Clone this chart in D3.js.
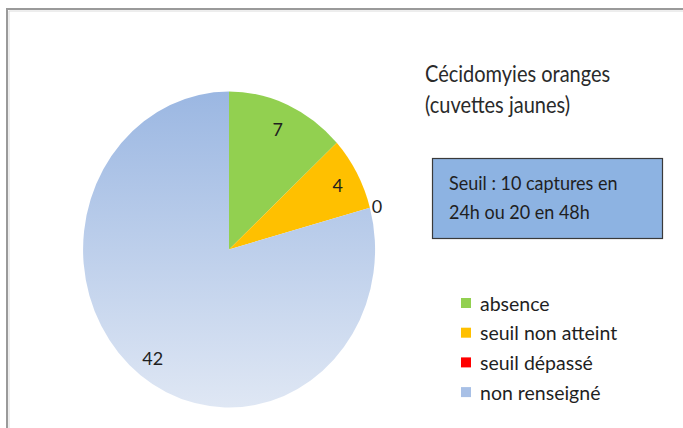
<!DOCTYPE html>
<html>
<head>
<meta charset="utf-8">
<script src="https://cdn.jsdelivr.net/npm/d3@7"></script>
<style>
  body { margin: 0; background: #fff; }
  svg { display: block; font-family: "Lato", "Liberation Sans", sans-serif; }
</style>
</head>
<body>
<svg id="chart" width="683" height="428"></svg>
<script>
// données
var categories = ['absence', 'seuil non atteint', 'seuil dépassé', 'non renseigné'];
var values = [7, 4, 0, 42];
var colors = ['#92D050', '#FFC000', '#FF0000', '#A8C0E6'];
var titleLines = ['Cécidomyies oranges', '(cuvettes jaunes)'];
var noteLines = ['Seuil : 10 captures en', '24h ou 20 en 48h'];

var svg = d3.select('#chart');

// cadre (seuls les bords haut et gauche sont visibles)
svg.append('path')
  .attr('d', 'M7,428 V9 H683')
  .attr('fill', 'none')
  .attr('stroke', '#9a9a9a')
  .attr('stroke-width', 2);
svg.append('path')
  .attr('d', 'M9,428 V11 H683')
  .attr('fill', 'none')
  .attr('stroke', '#dcdcdc')
  .attr('stroke-width', 1);

// dégradé de la part "non renseigné"
var defs = svg.append('defs');
var grad = defs.append('linearGradient')
  .attr('id', 'blueGrad')
  .attr('gradientUnits', 'userSpaceOnUse')
  .attr('x1', 0).attr('y1', -1).attr('x2', 0).attr('y2', 1);
grad.append('stop').attr('offset', '0%').attr('stop-color', '#9BB7E2');
grad.append('stop').attr('offset', '100%').attr('stop-color', '#DFE7F4');

// camembert (légèrement étiré en hauteur comme l'image)
var cx = 229, cy = 249.5, rx = 146, ry = 158;
var pie = d3.pie().sort(null).value(function(d){ return d; });
var arcs = pie(values);
var unitArc = d3.arc().innerRadius(0).outerRadius(1);

var g = svg.append('g')
  .attr('transform', 'translate(' + cx + ',' + cy + ') scale(' + rx + ',' + ry + ')');

g.selectAll('path')
  .data(arcs)
  .enter()
  .append('path')
  .attr('d', unitArc)
  .attr('fill', function(d, i){ return i === 3 ? 'url(#blueGrad)' : colors[i]; })
  .attr('stroke', 'none');

// étiquettes des valeurs
var labelRadius = [0.83, 0.85, 1.05, 0.86];
svg.selectAll('text.val')
  .data(arcs)
  .enter()
  .append('text')
  .attr('class', 'val')
  .attr('x', function(d, i){
    var a = (d.startAngle + d.endAngle) / 2;
    return cx + Math.sin(a) * rx * labelRadius[i];
  })
  .attr('y', function(d, i){
    var a = (d.startAngle + d.endAngle) / 2;
    return cy - Math.cos(a) * ry * labelRadius[i];
  })
  .attr('text-anchor', 'middle')
  .attr('dominant-baseline', 'central')
  .attr('font-size', 18)
  .attr('fill', '#1f1f1f')
  .text(function(d){ return d.data; });

// titre (étiré verticalement comme l'image d'origine)
svg.selectAll('text.title')
  .data(titleLines)
  .enter()
  .append('text')
  .attr('class', 'title')
  .attr('transform', function(d, i){ return 'translate(425,' + (82 + i * 31) + ') scale(1,1.15)'; })
  .attr('font-size', 20)
  .attr('fill', '#2a2a2a')
  .text(function(d){ return d; });

// encadré du seuil
svg.append('rect')
  .attr('x', 432.5).attr('y', 158.5)
  .attr('width', 230).attr('height', 80)
  .attr('fill', '#8DB3E2')
  .attr('stroke', '#3a3a3a')
  .attr('stroke-width', 1.2);
svg.selectAll('text.note')
  .data(noteLines)
  .enter()
  .append('text')
  .attr('class', 'note')
  .attr('transform', function(d, i){ return 'translate(449,' + (190 + i * 29) + ') scale(1,1.05)'; })
  .attr('font-size', 18)
  .attr('fill', '#1f1f1f')
  .text(function(d){ return d; });

// légende
var legend = svg.selectAll('g.leg')
  .data(categories)
  .enter()
  .append('g')
  .attr('class', 'leg')
  .attr('transform', function(d, i){ return 'translate(461,' + (303 + i * 29.7) + ')'; });
legend.append('rect')
  .attr('x', 0).attr('y', -5)
  .attr('width', 10).attr('height', 10)
  .attr('fill', function(d, i){ return colors[i]; });
legend.append('text')
  .attr('x', 19)
  .attr('y', 0)
  .attr('dominant-baseline', 'central')
  .attr('font-size', 19.5)
  .attr('fill', '#1f1f1f')
  .text(function(d){ return d; });
</script>
</body>
</html>
